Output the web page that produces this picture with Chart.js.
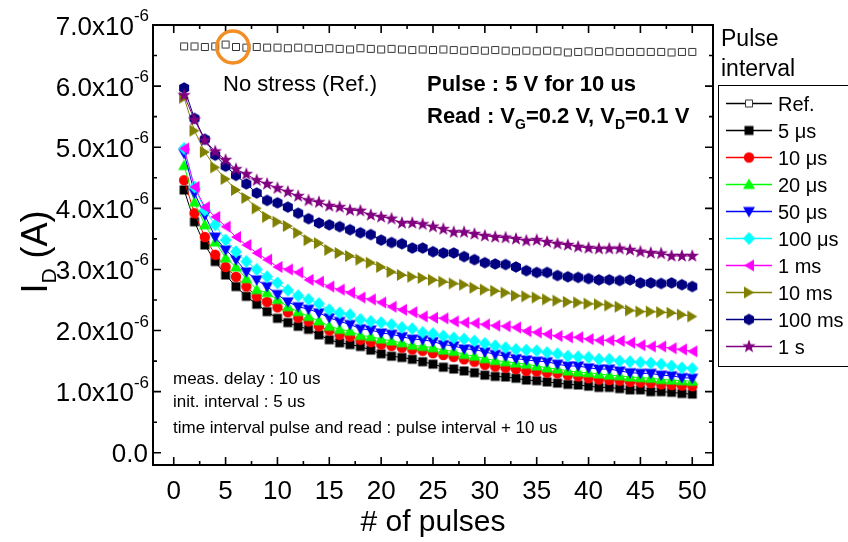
<!doctype html>
<html lang="en">
<head>
    <meta charset="utf-8">
    <title>Pulse interval</title>
    <script src="https://cdn.jsdelivr.net/npm/chart.js"></script>
    <style>
        html, body { margin: 0; padding: 0; background: #fff; }
        #wrap { width: 848px; height: 542px; }
    </style>
</head>
<body>
<div id="wrap"><canvas id="pulseChart" width="848" height="542"></canvas></div>

<script>
    // # of pulses
    const pulses = [1, 2, 3, 4, 5, 6, 7, 8, 9, 10, 11, 12, 13, 14, 15, 16, 17, 18, 19, 20,
        21, 22, 23, 24, 25, 26, 27, 28, 29, 30, 31, 32, 33, 34, 35, 36, 37, 38, 39, 40,
        41, 42, 43, 44, 45, 46, 47, 48, 49, 50];

    // drain current I_D, in units of 1e-6 A
    const idRef = [6.65, 6.65, 6.64, 6.65, 6.68, 6.64, 6.63, 6.64, 6.63, 6.63, 6.62, 6.63, 6.62, 6.61, 6.62, 6.61, 6.60, 6.62, 6.61, 6.60,
        6.61, 6.60, 6.59, 6.60, 6.59, 6.60, 6.59, 6.58, 6.59, 6.58, 6.59, 6.58, 6.57, 6.58, 6.57, 6.58, 6.57, 6.55, 6.56, 6.57,
        6.56, 6.57, 6.56, 6.56, 6.56, 6.56, 6.56, 6.55, 6.56, 6.56];
    const id5us = [4.30, 3.78, 3.40, 3.13, 2.91, 2.72, 2.56, 2.43, 2.31, 2.20, 2.13, 2.07, 2.02, 1.93, 1.85, 1.80, 1.77, 1.74, 1.68, 1.62,
        1.58, 1.56, 1.53, 1.49, 1.45, 1.40, 1.37, 1.34, 1.31, 1.27, 1.25, 1.24, 1.22, 1.19, 1.18, 1.16, 1.14, 1.12, 1.11, 1.09,
        1.07, 1.07, 1.05, 1.03, 1.03, 1.00, 1.00, 0.99, 0.97, 0.96];
    const id10us = [4.46, 3.92, 3.53, 3.24, 3.04, 2.88, 2.72, 2.56, 2.47, 2.38, 2.30, 2.21, 2.15, 2.07, 2.00, 1.93, 1.90, 1.85, 1.81, 1.77,
        1.75, 1.72, 1.69, 1.67, 1.63, 1.60, 1.57, 1.53, 1.49, 1.44, 1.41, 1.39, 1.37, 1.34, 1.33, 1.31, 1.30, 1.27, 1.25, 1.22,
        1.20, 1.19, 1.18, 1.16, 1.15, 1.14, 1.12, 1.11, 1.10, 1.09];
    const id20us = [4.70, 4.10, 3.73, 3.45, 3.19, 3.04, 2.85, 2.67, 2.62, 2.51, 2.39, 2.31, 2.23, 2.16, 2.07, 2.02, 1.99, 1.92, 1.90, 1.86,
        1.83, 1.80, 1.76, 1.74, 1.72, 1.68, 1.66, 1.61, 1.58, 1.54, 1.51, 1.49, 1.47, 1.45, 1.42, 1.39, 1.37, 1.34, 1.32, 1.31,
        1.29, 1.27, 1.26, 1.24, 1.23, 1.22, 1.20, 1.19, 1.18, 1.17];
    const id50us = [4.90, 4.25, 3.89, 3.53, 3.32, 3.16, 2.96, 2.83, 2.72, 2.59, 2.47, 2.39, 2.35, 2.29, 2.21, 2.15, 2.10, 2.03, 2.01, 1.96,
        1.94, 1.90, 1.86, 1.85, 1.82, 1.77, 1.75, 1.70, 1.69, 1.65, 1.61, 1.58, 1.54, 1.52, 1.50, 1.49, 1.45, 1.42, 1.42, 1.39,
        1.37, 1.37, 1.34, 1.31, 1.30, 1.30, 1.27, 1.26, 1.23, 1.22];
    const id100us = [4.98, 4.35, 3.97, 3.73, 3.48, 3.29, 3.13, 3.00, 2.88, 2.78, 2.66, 2.57, 2.51, 2.44, 2.34, 2.29, 2.26, 2.18, 2.15, 2.13,
        2.10, 2.05, 2.03, 1.97, 1.95, 1.91, 1.88, 1.86, 1.83, 1.79, 1.75, 1.72, 1.69, 1.68, 1.67, 1.64, 1.62, 1.58, 1.57, 1.56,
        1.53, 1.53, 1.50, 1.49, 1.48, 1.47, 1.45, 1.42, 1.39, 1.38];
    const id1ms = [4.98, 4.35, 4.02, 3.86, 3.70, 3.53, 3.40, 3.27, 3.16, 3.04, 3.00, 2.95, 2.83, 2.80, 2.72, 2.67, 2.62, 2.54, 2.51, 2.46,
        2.39, 2.34, 2.30, 2.23, 2.21, 2.20, 2.15, 2.13, 2.12, 2.10, 2.08, 2.07, 2.05, 1.99, 1.97, 1.94, 1.91, 1.89, 1.89, 1.86,
        1.84, 1.84, 1.83, 1.80, 1.76, 1.74, 1.74, 1.71, 1.69, 1.66];
    const id10ms = [5.81, 5.27, 4.92, 4.67, 4.48, 4.30, 4.17, 4.00, 3.86, 3.78, 3.71, 3.60, 3.48, 3.43, 3.32, 3.27, 3.22, 3.16, 3.11, 3.04,
        2.96, 2.91, 2.88, 2.86, 2.83, 2.80, 2.77, 2.75, 2.70, 2.67, 2.65, 2.62, 2.57, 2.56, 2.54, 2.51, 2.49, 2.47, 2.46, 2.44,
        2.43, 2.41, 2.39, 2.33, 2.31, 2.31, 2.30, 2.29, 2.26, 2.23];
    const id100ms = [5.97, 5.47, 5.13, 4.87, 4.69, 4.54, 4.40, 4.25, 4.13, 4.09, 4.02, 3.92, 3.83, 3.76, 3.73, 3.70, 3.65, 3.60, 3.57, 3.48,
        3.44, 3.42, 3.35, 3.35, 3.29, 3.27, 3.27, 3.21, 3.16, 3.11, 3.09, 3.08, 3.04, 2.98, 2.95, 2.95, 2.90, 2.88, 2.87, 2.85,
        2.83, 2.83, 2.82, 2.83, 2.78, 2.78, 2.77, 2.78, 2.75, 2.72];
    const id1s = [5.85, 5.45, 5.11, 4.93, 4.79, 4.64, 4.56, 4.46, 4.40, 4.33, 4.27, 4.20, 4.13, 4.10, 4.04, 4.02, 3.97, 3.96, 3.89, 3.86,
        3.83, 3.76, 3.76, 3.74, 3.70, 3.66, 3.61, 3.61, 3.58, 3.55, 3.53, 3.52, 3.50, 3.47, 3.48, 3.45, 3.42, 3.40, 3.37, 3.35,
        3.34, 3.34, 3.34, 3.32, 3.29, 3.27, 3.26, 3.22, 3.22, 3.22];

    const seriesLabels = ['Ref.', '5 \u03bcs', '10 \u03bcs', '20 \u03bcs', '50 \u03bcs', '100 \u03bcs', '1 ms', '10 ms', '100 ms', '1 s'];
    const seriesValues = [idRef, id5us, id10us, id20us, id50us, id100us, id1ms, id10ms, id100ms, id1s];

    // axis ticks
    const xTicks = [0, 5, 10, 15, 20, 25, 30, 35, 40, 45, 50];
    const xMinorTicks = [2.5, 7.5, 12.5, 17.5, 22.5, 27.5, 32.5, 37.5, 42.5, 47.5];
    const yTicks = [0, 1, 2, 3, 4, 5, 6, 7];
    const yMinorTicks = [0.5, 1.5, 2.5, 3.5, 4.5, 5.5, 6.5];
    const yTickLabels = ['0.0', '1.0x10', '2.0x10', '3.0x10', '4.0x10', '5.0x10', '6.0x10', '7.0x10'];

    // styling
    const colors = ['#000000', '#000000', '#ff0000', '#00ff00', '#0000ff', '#00ffff', '#ff00ff', '#808000', '#000080', '#800080'];
    const shapes = ['openSquare', 'square', 'circle', 'up', 'down', 'diamond', 'left', 'right', 'hex', 'star'];
    const FONT = '"Liberation Sans", Arial, sans-serif';

    // small canvases used as point styles (and for the legend)
    function makeMarker(shape, color) {
        const c = document.createElement('canvas');
        c.width = 16;
        c.height = 16;
        const g = c.getContext('2d');
        g.translate(8, 8);
        g.fillStyle = color;
        g.beginPath();
        switch (shape) {
            case 'openSquare':
                g.fillStyle = '#ffffff';
                g.rect(-3.5, -3.5, 7, 7);
                break;
            case 'square':
                g.rect(-4.5, -4.5, 9, 9);
                break;
            case 'circle':
                g.arc(0, 0, 5.2, 0, Math.PI * 2);
                break;
            case 'up':
                g.moveTo(0, -6); g.lineTo(6, 4.5); g.lineTo(-6, 4.5);
                break;
            case 'down':
                g.moveTo(0, 6); g.lineTo(6, -4.5); g.lineTo(-6, -4.5);
                break;
            case 'diamond':
                g.moveTo(0, -6.5); g.lineTo(6, 0); g.lineTo(0, 6.5); g.lineTo(-6, 0);
                break;
            case 'left':
                g.moveTo(-5, 0); g.lineTo(5, -6); g.lineTo(5, 6);
                break;
            case 'right':
                g.moveTo(5, 0); g.lineTo(-5, -6); g.lineTo(-5, 6);
                break;
            case 'hex':
                for (let k = 0; k < 6; k++) {
                    const a = Math.PI / 6 + k * Math.PI / 3;
                    g.lineTo(5.8 * Math.cos(a), 5.8 * Math.sin(a));
                }
                break;
            case 'star':
                for (let k = 0; k < 10; k++) {
                    const r = k % 2 === 0 ? 7 : 2.9;
                    const a = -Math.PI / 2 + k * Math.PI / 5;
                    g.lineTo(r * Math.cos(a), r * Math.sin(a));
                }
                break;
        }
        g.closePath();
        g.fill();
        if (shape === 'openSquare') {
            g.strokeStyle = '#333333';
            g.lineWidth = 1;
            g.stroke();
        }
        return c;
    }

    const markers = shapes.map((s, i) => makeMarker(s, colors[i]));

    function drawText(ctx, parts, x, y) {
        // parts: [text, font, dy]
        let cx = x;
        parts.forEach(([t, f, dy]) => {
            ctx.font = f;
            ctx.fillText(t, cx, y + (dy || 0));
            cx += ctx.measureText(t).width;
        });
    }

    const decorations = {
        id: 'decorations',
        afterDatasetsDraw(chart) {
            const {ctx, chartArea: a, scales: {x, y}} = chart;
            ctx.save();
            ctx.fillStyle = '#000';
            ctx.strokeStyle = '#000';

            // frame
            ctx.lineWidth = 2;
            ctx.strokeRect(a.left, a.top, a.right - a.left, a.bottom - a.top);

            // inward ticks on all four sides
            ctx.lineWidth = 1.6;
            ctx.beginPath();
            const xt = (v, len) => {
                const px = x.getPixelForValue(v);
                ctx.moveTo(px, a.bottom); ctx.lineTo(px, a.bottom - len);
                ctx.moveTo(px, a.top); ctx.lineTo(px, a.top + len);
            };
            const yt = (v, len) => {
                const py = y.getPixelForValue(v);
                ctx.moveTo(a.left, py); ctx.lineTo(a.left + len, py);
                ctx.moveTo(a.right, py); ctx.lineTo(a.right - len, py);
            };
            xTicks.forEach(v => xt(v, 8));
            xMinorTicks.forEach(v => xt(v, 4));
            yTicks.forEach(v => yt(v, 8));
            yMinorTicks.forEach(v => yt(v, 4));
            ctx.stroke();

            // x tick labels
            ctx.font = '26px ' + FONT;
            ctx.textAlign = 'center';
            ctx.textBaseline = 'alphabetic';
            xTicks.forEach(v => ctx.fillText(String(v), x.getPixelForValue(v), 499));

            // y tick labels with x10^-6 exponent
            ctx.textAlign = 'right';
            yTicks.forEach((v, i) => {
                const py = y.getPixelForValue(v);
                const base = py + 9.5;
                if (i === 0) {
                    ctx.font = '26px ' + FONT;
                    ctx.fillText(yTickLabels[i], 148, base);
                    return;
                }
                ctx.font = '17px ' + FONT;
                const sup = '-6';
                const sw = ctx.measureText(sup).width;
                ctx.fillText(sup, 149, py - 4);
                ctx.font = '26px ' + FONT;
                ctx.fillText(yTickLabels[i], 149 - sw, base);
            });

            // axis titles
            ctx.textAlign = 'center';
            ctx.font = '30px ' + FONT;
            ctx.fillText('# of pulses', (a.left + a.right) / 2, 531);

            ctx.save();
            ctx.translate(47, 252);
            ctx.rotate(-Math.PI / 2);
            ctx.textAlign = 'left';
            const T = '36px ' + FONT, TS = '21px ' + FONT;
            ctx.font = T;
            const w1 = ctx.measureText('I').width;
            const w3 = ctx.measureText(' (A)').width;
            ctx.font = TS;
            const w2 = ctx.measureText('D').width;
            drawText(ctx, [['I', T], ['D', TS, 9], [' (A)', T]], -(w1 + w2 + w3) / 2, 0);
            ctx.restore();

            // annotations
            ctx.textAlign = 'left';
            ctx.textBaseline = 'alphabetic';
            ctx.font = '22px ' + FONT;
            ctx.fillText('No stress (Ref.)', 223, 91);
            const B = 'bold 22px ' + FONT, S = 'bold 14px ' + FONT;
            drawText(ctx, [['Pulse : 5 V for 10 us', B]], 427, 91);
            drawText(ctx, [['Read : V', B], ['G', S, 6], ['=0.2 V, V', B], ['D', S, 6], ['=0.1 V', B]], 427, 123);

            ctx.font = '17px ' + FONT;
            ctx.fillText('meas. delay : 10 us', 173, 384);
            ctx.fillText('init. interval : 5 us', 173, 407);
            ctx.fillText('time interval pulse and read : pulse interval + 10 us', 173, 433);

            // highlight ring on the reference curve
            ctx.strokeStyle = '#f28e24';
            ctx.lineWidth = 3.5;
            ctx.beginPath();
            ctx.arc(x.getPixelForValue(5.7), y.getPixelForValue(idRef[5]), 16, 0, Math.PI * 2);
            ctx.stroke();

            // legend
            ctx.fillStyle = '#000';
            ctx.font = '23px ' + FONT;
            ctx.fillText('Pulse', 721, 46);
            ctx.fillText('interval', 721, 76);
            ctx.strokeStyle = '#000';
            ctx.lineWidth = 1;
            ctx.strokeRect(718.5, 85.5, 140, 281);
            ctx.font = '20px ' + FONT;
            seriesLabels.forEach((lab, i) => {
                const ly = 103.5 + i * 27;
                ctx.strokeStyle = colors[i];
                ctx.lineWidth = 1.5;
                ctx.beginPath();
                ctx.moveTo(726, ly);
                ctx.lineTo(772, ly);
                ctx.stroke();
                ctx.drawImage(markers[i], 749 - 8, ly - 8);
                ctx.fillStyle = '#000';
                ctx.fillText(lab, 778, ly + 7);
            });
            ctx.restore();
        }
    };

    const ctx = document.getElementById('pulseChart').getContext('2d');
    new Chart(ctx, {
        type: 'line',
        data: {
            datasets: seriesValues.map((vals, i) => ({
                label: seriesLabels[i],
                data: pulses.map((p, k) => ({x: p, y: vals[k]})),
                borderColor: colors[i],
                backgroundColor: colors[i],
                borderWidth: 1,
                showLine: i !== 0,
                pointStyle: markers[i],
                pointRadius: 6,
                order: -i
            }))
        },
        options: {
            responsive: false,
            animation: false,
            layout: {padding: {top: 25, right: 135, left: 0, bottom: 0}},
            plugins: {
                legend: {display: false},
                tooltip: {enabled: false}
            },
            scales: {
                x: {
                    type: 'linear', min: -2, max: 52,
                    grid: {display: false}, border: {display: false}, ticks: {display: false},
                    afterFit: s => { s.height = 77; }
                },
                y: {
                    type: 'linear', min: -0.2, max: 7,
                    grid: {display: false}, border: {display: false}, ticks: {display: false},
                    afterFit: s => { s.width = 153; }
                }
            }
        },
        plugins: [decorations]
    });
</script>
</body>
</html>
